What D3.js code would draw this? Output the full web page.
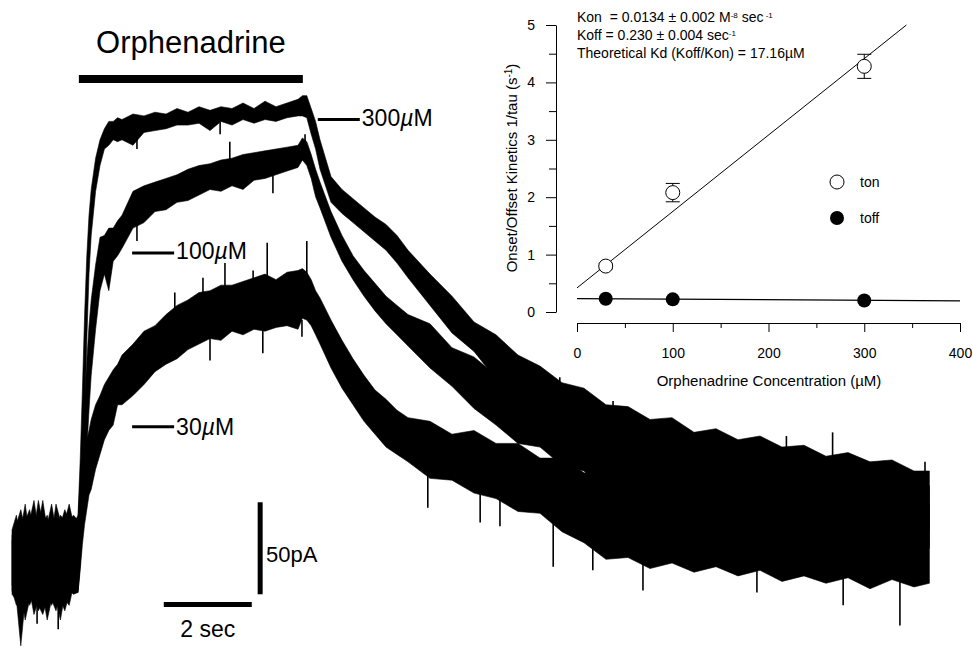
<!DOCTYPE html>
<html>
<head>
<meta charset="utf-8">
<script src="https://cdn.jsdelivr.net/npm/d3@7"></script>
<style>
body{margin:0;background:#fff}
svg{display:block}
text{font-family:"Liberation Sans",Arial,sans-serif;fill:#000;white-space:pre}
</style>
</head>
<body>
<svg></svg>
<script>
// current traces, time in sec, current in pA above baseline (noise band read as upper / lower edge)
const traceTime=[0,0.1,0.2,0.3,0.4,0.5,0.6,0.7,0.8,0.9,1.0,1.1,1.2,1.3,1.4,
	1.5,1.55,1.6,1.65,1.7,1.75,1.8,1.9,2.0,2.1,2.2,2.3,2.4,2.5,
	2.75,3,3.25,3.5,3.75,4,4.25,4.5,4.75,5,5.25,5.5,5.75,6,6.25,6.5,
	6.6,6.7,6.8,6.9,7.0,7.25,7.5,7.75,8.0,8.25,8.5,8.75,9.0,
	9.5,10,10.5,11,11.5,12,12.5,13,13.5,14,14.5,15,15.5,16,16.5,17,17.5,18,18.5,19,19.5,20,20.5,
	20.85]

const up300=[12,23,18,32,15,26,21,34,18,29,15,26,23,32,21,
	26,56,94,135,167,189,203,220,230,236,240,240,242,241,
	244,243,245,244,247,245,248,246,248,247,250,247,251,248,250,252,
	254,254,247,240,230,210,203,198,193,188,184,178,170,
	157,145,131,124,113,107,98,95,86,85,78,79,71,73,67,69,63,64,58,60,55,56,50,
	50]
const lo300=[-12,-17,-20,-15,-23,-17,-26,-20,-15,-23,-17,-20,-26,-17,-15,
	-15,2,40,78,121,157,178,202,216,225,227,230,229,230,
	227,234,235,236,238,238,239,235,240,238,241,239,241,240,242,243,
	243,242,233,225,214,196,190,185,180,175,170,163,155,
	140,125,115,100,95,78,75,65,61,53,52,43,43,37,37,30,32,26,27,21,23,18,20,
	17]

const up100=[18,26,12,23,29,18,34,21,26,15,32,23,18,26,23,
	23,45,67,89,110,129,143,162,177,178,182,182,186,189,
	202,205,207,209,211,214,216,217,219,220,222,223,224,225,226,227,
	231,229,222,214,207,191,178,167,159,152,145,140,135,
	130,117,112,102,99,89,90,78,77,69,70,64,64,58,61,55,57,51,53,48,49,43,46,
	42]
const lo100=[-17,-20,-45,-20,-15,-28,-20,-17,-31,-20,-26,-17,-20,-23,-12,
	-16,-1,18,40,61,83,102,127,148,157,148,164,167,171,
	182,185,191,192,196,197,200,203,202,205,203,208,209,211,213,215,
	219,216,209,199,193,177,164,154,145,137,130,124,118,
	106,96,84,75,65,63,53,50,38,37,30,31,24,25,19,21,15,17,12,15,9,12,6,
	8]

const up30=[15,21,29,18,23,34,18,29,21,32,18,21,29,23,26,
	23,40,51,59,67,72,78,86,91,97,101,105,108,113,
	119,126,129,135,140,143,147,148,151,151,153,155,157,154,158,159,
	160,158,154,148,144,132,121,111,102,94,89,83,79,
	77,70,72,65,65,57,57,49,48,42,44,39,42,37,39,35,37,32,36,31,34,30,33,
	32]
const lo30=[-15,-23,-17,-31,-20,-15,-23,-28,-20,-17,-20,-31,-17,-15,-17,
	-16,-4,10,21,29,37,40,51,59,67,72,75,86,86,
	91,97,104,108,111,116,119,122,121,126,124,127,126,128,129,127,
	133,132,129,124,119,106,95,86,77,70,63,59,55,
	46,45,38,35,28,27,17,11,2,3,-3,0,-5,-2,-7,-4,-10,-7,-11,-8,-14,-9,-13,
	-11]

// single noise spikes sticking out of the bands: time, from pA, to pA
const spikes=[
	[3.70,135,147],[4.34,145,155],[4.84,148,163],[5.48,152,159],[5.80,155,174],[6.70,156,175],
	[4.50,125,110],[5.70,130,114],[6.59,132,123],
	[2.84,235,225],[4.73,240,233],
	[5.93,214,201],[2.84,186,175],[4.95,218,229],[6.66,225,233],
	[12.45,90,101],[13.66,80,88],[14.89,72,78],[16.05,62,72],[17.6,58,69],[18.65,55,71],[20.75,48,55],
	[12.3,25,-2],[14.34,10,-15],[16.93,5,-16],[18.89,0,-23],[20.18,-2,-34],
	[9.45,55,30],[10.64,45,22],[11.09,42,20],[13.2,15,-4],
	[0.57,-10,-33],[1.05,-10,-36]
]

const concLabels=["300","100","30"]
const drugTime=[1.52,6.61]

// inset: kinetics vs concentration
const conc=[30,100,300]
const tonRate=[0.80,2.08,4.28]
const tonErr=[0.05,0.16,0.21]
const toffRate=[0.23,0.22,0.20]
const tonFit=[[0,0.42],[344,5.0]]
const toffFit=[[0,0.232],[400,0.195]]
const xTicks=[0,100,200,300,400]
const yTicks=[0,1,2,3,4,5]


const svg=d3.select("svg")
	.attr("width",973)
	.attr("height",657)

const xTrace=d3.scaleLinear().domain([0,20]).range([12,892])
const yTrace=d3.scaleLinear().domain([0,250]).range([563,103])

//noise bands for each trace
const area=d3.area()
	.x(d=>xTrace(d.t))
	.y0(d=>yTrace(d.lo))
	.y1(d=>yTrace(d.up))

const traces=[{up:up300,lo:lo300},{up:up100,lo:lo100},{up:up30,lo:lo30}]
traces.forEach(function(tr){
	const pts=traceTime.map((t,i)=>({t:t,up:tr.up[i],lo:tr.lo[i]}))
	svg.append("path")
		.attr("d",area(pts))
		.attr("fill","#000")
		.attr("stroke","#000")
		.attr("stroke-width",0.6)
})

svg.selectAll("line.spike")
	.data(spikes)
	.enter()
	.append("line")
	.attr("class","spike")
	.attr("x1",d=>xTrace(d[0])).attr("x2",d=>xTrace(d[0]))
	.attr("y1",d=>yTrace(d[1])).attr("y2",d=>yTrace(d[2]))
	.attr("stroke","#000").attr("stroke-width",1.6)

//drug application bar
svg.append("rect")
	.attr("x",xTrace(drugTime[0]))
	.attr("y",75)
	.attr("width",xTrace(drugTime[1])-xTrace(drugTime[0]))
	.attr("height",8)
svg.append("text")
	.attr("x",(xTrace(drugTime[0])+xTrace(drugTime[1]))/2)
	.attr("y",53)
	.attr("text-anchor","middle")
	.style("font-size","31px")
	.text("Orphenadrine")

//concentration labels
const labelPos=[{t:6.95,p:241,ty:126},{t:2.73,p:168.5,ty:259},{t:2.73,p:74,ty:435}]
labelPos.forEach(function(d,i){
	const x0=xTrace(d.t)
	const x1=x0+42
	svg.append("line")
		.attr("x1",x0).attr("x2",x1)
		.attr("y1",yTrace(d.p)).attr("y2",yTrace(d.p))
		.attr("stroke","#000").attr("stroke-width",3)
	const t=svg.append("text")
		.attr("x",x1+2)
		.attr("y",d.ty)
		.style("font-size","23px")
	t.append("tspan").text(concLabels[i])
	t.append("tspan").style("font-style","italic").text("\u00b5")
	t.append("tspan").text("M")
})

//scale bars
svg.append("line")
	.attr("x1",xTrace(3.45)).attr("x2",xTrace(5.45))
	.attr("y1",604.5).attr("y2",604.5)
	.attr("stroke","#000").attr("stroke-width",5)
svg.append("line")
	.attr("x1",xTrace(5.64)).attr("x2",xTrace(5.64))
	.attr("y1",yTrace(-17)).attr("y2",yTrace(33))
	.attr("stroke","#000").attr("stroke-width",5)
svg.append("text")
	.attr("x",xTrace(4.45)).attr("y",637)
	.attr("text-anchor","middle")
	.style("font-size","23px")
	.text("2 sec")
svg.append("text")
	.attr("x",266).attr("y",562)
	.style("font-size","22px")
	.text("50pA")


//inset graph
const xIn=d3.scaleLinear().domain([0,400]).range([577,960])
const yIn=d3.scaleLinear().domain([0,5]).range([312,25])

svg.append("g")
	.attr("transform","translate(556,0)")
	.call(d3.axisLeft(yIn).tickValues(yTicks).tickSize(10).tickSizeOuter(0).tickPadding(11).tickFormat(d3.format("d")))
svg.append("g")
	.attr("transform","translate(556,0)")
	.call(d3.axisLeft(yIn).tickValues([0.5,1.5,2.5,3.5,4.5]).tickSize(7).tickSizeOuter(0).tickFormat(""))
	.select(".domain").remove()

svg.append("g")
	.attr("transform","translate(0,323)")
	.call(d3.axisBottom(xIn).tickValues(xTicks).tickSize(9).tickSizeOuter(0).tickPadding(16))
svg.append("g")
	.attr("transform","translate(0,323)")
	.call(d3.axisBottom(xIn).tickValues([50,150,250,350]).tickSize(5).tickSizeOuter(0).tickFormat(""))
	.select(".domain").remove()

svg.selectAll(".tick text")
	.style("font-family","'Liberation Sans',Arial,sans-serif")
	.style("font-size","14px")

const yTitle=svg.append("text")
	.attr("transform","translate(517,168) rotate(-90)")
	.attr("text-anchor","middle")
	.style("font-size","15px")
yTitle.append("tspan").text("Onset/Offset Kinetics 1/tau (s")
yTitle.append("tspan").attr("baseline-shift","super").style("font-size","10px").text("-1")
yTitle.append("tspan").text(")")

svg.append("text")
	.attr("x",769).attr("y",386)
	.attr("text-anchor","middle")
	.style("font-size","15px")
	.text("Orphenadrine Concentration (\u00b5M)")

//fit lines
const fitLine=d3.line().x(d=>xIn(d[0])).y(d=>yIn(d[1]))
svg.append("path").attr("d",fitLine(tonFit)).attr("fill","none").attr("stroke","#000").attr("stroke-width",1)
svg.append("path").attr("d",fitLine(toffFit)).attr("fill","none").attr("stroke","#000").attr("stroke-width",1.2)

//error bars for ton
conc.forEach(function(c,i){
	const x=xIn(c)
	svg.append("line").attr("x1",x).attr("x2",x)
		.attr("y1",yIn(tonRate[i]+tonErr[i])).attr("y2",yIn(tonRate[i]-tonErr[i]))
		.attr("stroke","#000")
	;[tonRate[i]+tonErr[i],tonRate[i]-tonErr[i]].forEach(v=>{
		svg.append("line").attr("x1",x-7).attr("x2",x+7)
			.attr("y1",yIn(v)).attr("y2",yIn(v)).attr("stroke","#000")
	})
})

svg.selectAll("circle.ton")
	.data(conc)
	.enter()
	.append("circle")
	.attr("class","ton")
	.attr("cx",d=>xIn(d))
	.attr("cy",(d,i)=>yIn(tonRate[i]))
	.attr("r",7)
	.attr("fill","#fff").attr("stroke","#000").attr("stroke-width",1)

svg.selectAll("circle.toff")
	.data(conc)
	.enter()
	.append("circle")
	.attr("class","toff")
	.attr("cx",d=>xIn(d))
	.attr("cy",(d,i)=>yIn(toffRate[i]))
	.attr("r",7)
	.attr("fill","#000")

//legend
svg.append("circle").attr("cx",837).attr("cy",182).attr("r",7).attr("fill","#fff").attr("stroke","#000")
svg.append("text").attr("x",860).attr("y",187).style("font-size","14px").text("ton")
svg.append("circle").attr("cx",837).attr("cy",218).attr("r",7).attr("fill","#000")
svg.append("text").attr("x",860).attr("y",223).style("font-size","14px").text("toff")

//rate constants
const notes=svg.append("g").style("font-size","14px")
const n1=notes.append("text").attr("x",577).attr("y",22)
n1.append("tspan").text("Kon  = 0.0134 \u00b1 0.002 M")
n1.append("tspan").attr("baseline-shift","super").style("font-size","8px").text("-8")
n1.append("tspan").text(" sec")
n1.append("tspan").attr("baseline-shift","super").style("font-size","8px").text(" -1")
const n2=notes.append("text").attr("x",577).attr("y",40)
n2.append("tspan").text("Koff = 0.230 \u00b1 0.004 sec")
n2.append("tspan").attr("baseline-shift","super").style("font-size","8px").text("-1")
notes.append("text").attr("x",577).attr("y",58).text("Theoretical Kd (Koff/Kon) = 17.16\u00b5M")
</script>
</body>
</html>
